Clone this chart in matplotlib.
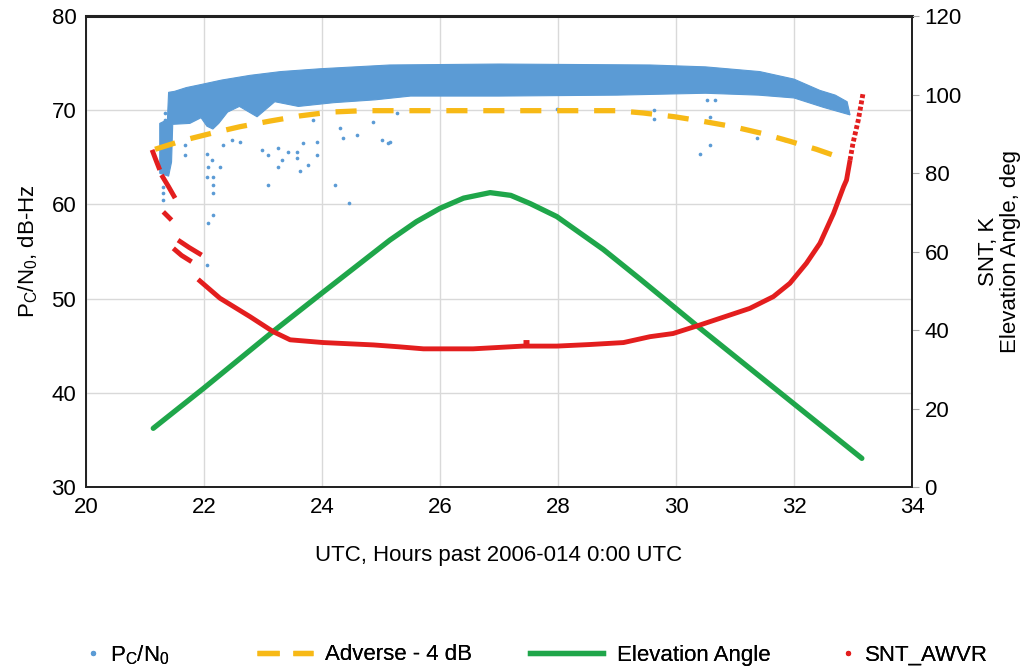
import numpy as np
import matplotlib
matplotlib.use("Agg")
import matplotlib.pyplot as plt
from matplotlib.lines import Line2D

plt.rcParams['font.family'] = ['Liberation Sans', 'DejaVu Sans']

# ---------------- data ----------------
# P_C/N_0 dense band: upper and lower envelope, dB-Hz
band_top_h = [21.25, 21.38, 21.40, 21.50, 21.70, 21.93, 22.30, 22.78, 23.30, 23.97,
              25.15, 27.00, 29.56, 30.50, 31.42, 32.00, 32.44, 32.70, 32.90, 32.95]
band_top_db = [68.6, 69.0, 71.9, 72.0, 72.4, 72.7, 73.2, 73.7, 74.1, 74.4,
               74.8, 74.9, 74.8, 74.6, 74.1, 73.3, 72.1, 71.6, 70.9, 69.5]
band_bot_h = [21.25, 21.40, 21.45, 21.47, 21.76, 21.95, 22.05, 22.15, 22.25, 22.40, 22.60,
              22.90, 23.20, 23.60, 24.20, 24.90, 25.50, 27.00, 29.00, 30.50, 31.40,
              32.00, 32.50, 32.95]
band_bot_db = [63.3, 63.0, 64.5, 68.5, 68.6, 69.2, 68.3, 68.0, 68.6, 69.8, 70.4,
               69.3, 70.9, 70.4, 70.8, 71.1, 71.5, 71.5, 71.6, 71.8, 71.6,
               71.3, 70.3, 69.5]
# scattered P_C/N_0 samples outside the band
out_h = [21.34, 21.34, 21.68, 21.68, 22.05, 22.07, 22.13, 22.05, 22.15, 22.15, 22.15,
         22.27, 22.33, 22.47, 22.61, 22.98, 23.09, 23.09, 23.26, 23.32, 23.26, 23.43,
         23.57, 23.57, 23.63, 23.77, 23.68, 23.91, 23.91, 24.22, 24.36, 24.59, 24.87,
         25.01, 25.12, 23.85, 24.31, 21.31, 21.31, 22.07, 22.16, 22.05, 24.45, 21.31,
         29.62, 29.62, 30.58, 30.58, 31.37, 30.58, 30.41, 31.85, 30.52, 30.66, 27.98,
         25.27, 25.15]
out_db = [69.7, 69.0, 66.3, 65.2, 65.4, 64.0, 64.7, 62.9, 62.9, 62.1, 61.2,
          64.0, 66.3, 66.8, 66.6, 65.8, 65.2, 62.1, 66.0, 64.7, 64.0, 65.6,
          65.6, 64.9, 63.5, 64.2, 66.5, 65.2, 66.6, 62.1, 67.0, 67.4, 68.8,
          66.8, 66.5, 69.0, 68.1, 61.2, 60.5, 58.0, 58.9, 53.6, 60.1, 61.9,
          70.0, 69.1, 69.3, 68.8, 67.0, 66.3, 65.4, 66.8, 71.1, 71.1, 70.1,
          69.7, 66.6]

# Adverse - 4 dB
adv_h = [21.17, 21.65, 22.16, 22.61, 23.12, 23.63, 24.14, 24.70, 25.24, 27.00,
         29.00, 29.45, 29.98, 30.43, 30.97, 31.45, 31.93, 32.38, 32.84]
adv_db = [65.85, 66.8, 67.6, 68.25, 68.85, 69.4, 69.8, 69.95, 69.95, 69.95,
          69.95, 69.7, 69.3, 68.85, 68.25, 67.55, 66.7, 65.85, 64.85]

# Elevation angle, deg
elev_h = [21.14, 21.99, 23.17, 23.99, 25.15, 25.60, 26.00, 26.40, 26.85, 27.20, 27.53,
          27.98, 28.77, 29.39, 30.41, 31.99, 33.15]
elev_deg = [14.95, 25.1, 39.6, 49.3, 62.9, 67.6, 71.0, 73.6, 75.0, 74.3, 72.2,
            68.9, 60.5, 53.0, 40.4, 21.3, 7.3]

# SNT_AWVR, K (pieces)
snt_pieces_h = [
    [21.12, 21.18, 21.25],
    [21.28, 21.40, 21.51],
    [21.31, 21.45],
    [21.48, 21.62, 21.79],
    [21.56, 21.75, 21.96],
    [21.90, 22.27, 22.78, 23.17, 23.46, 24.02, 24.87, 25.32, 25.72, 26.56, 27.41,
     27.98, 28.54, 29.11, 29.56, 29.95, 30.41, 31.25, 31.65, 31.93, 32.21, 32.44,
     32.67, 32.84, 32.89, 32.95],
    [32.95, 33.00, 33.09, 33.17],
    [27.40, 27.50],
]
snt_pieces_k = [
    [85.9, 83.5, 80.8],
    [79.5, 76.5, 73.6],
    [70.1, 68.0],
    [60.8, 59.0, 57.4],
    [62.9, 61.0, 59.1],
    [52.9, 48.1, 43.4, 39.6, 37.5, 36.8, 36.2, 35.7, 35.2, 35.2, 35.9,
     35.9, 36.3, 36.8, 38.3, 39.1, 41.3, 45.5, 48.5, 51.9, 57.0, 62.1,
     69.7, 76.5, 78.2, 83.3],
    [83.3, 87.6, 93.5, 100.3],
    [36.9, 36.9],
]

x_ticks = [20, 22, 24, 26, 28, 30, 32, 34]
left_ticks = [30, 40, 50, 60, 70, 80]
right_ticks = [0, 20, 40, 60, 80, 100, 120]

# ---------------- style ----------------
BLUE = '#5b9bd5'
YELLOW = '#f7b916'
GREEN = '#1fa64a'
RED = '#e31e1e'
GRID = '#d9d9d9'
FS = 16
W, H = 1025, 671

fig = plt.figure(figsize=(W / 100, H / 100), dpi=100)
ax = fig.add_axes([86 / W, 1 - 487 / H, (912 - 86) / W, (487 - 16) / H])
ax2 = ax.twinx()

ax.set_xlim(20, 34)
ax.set_ylim(30, 80)
ax2.set_ylim(0, 120)
ax.set_xticks(x_ticks)
ax.set_yticks(left_ticks)
ax2.set_yticks(right_ticks)
ax.grid(True, color=GRID, lw=1.0)
ax.set_axisbelow(True)

# blue band
poly_x = np.concatenate([band_top_h, band_bot_h[::-1]])
poly_y = np.concatenate([band_top_db, band_bot_db[::-1]])
ax.fill(poly_x, poly_y, color=BLUE, lw=0.8, ec=BLUE, zorder=2)
ax.scatter(out_h, out_db, s=7, color=BLUE, zorder=2, lw=0)

# yellow adverse
ax.plot(adv_h, adv_db, color=YELLOW, lw=3.8, dashes=(4, 3), zorder=3)

# right axis series
ax2.plot(elev_h, elev_deg, color=GREEN, lw=3.8, solid_capstyle='round', zorder=3)
for i, (hh, kk) in enumerate(zip(snt_pieces_h, snt_pieces_k)):
    if i == 6:
        ax2.plot(hh, kk, color=RED, lw=3.5, dashes=(0.8, 0.5), zorder=4)
    else:
        ax2.plot(hh, kk, color=RED, lw=3.5, zorder=4, solid_capstyle='butt')

# spines and ticks
for a in (ax, ax2):
    for s in a.spines.values():
        s.set_color('#222222')
        s.set_linewidth(1.3)
ax.spines['top'].set_linewidth(2.2)
ax.tick_params(axis='both', length=0, labelsize=FS, pad=7)
ax2.tick_params(axis='y', length=5, color='#aaaaaa', labelsize=FS, pad=4)

ax.set_xlabel('UTC, Hours past 2006-014 0:00 UTC', fontsize=FS, labelpad=20)
ax.set_ylabel(r'P$_\mathregular{C}$/N$_\mathregular{0}$, dB-Hz', fontsize=FS, labelpad=8)
ax2.set_ylabel('SNT, K\nElevation Angle, deg', fontsize=FS, labelpad=12, linespacing=1.05)

# legend: one entry per box placed along the bottom
ly = 1 - 655 / H
entries = [
    (Line2D([], [], ls='none', marker='o', ms=2.8, color=BLUE, mec=BLUE),
     r'P$_\mathregular{C}$/N$_\mathregular{0}$', 84, 0.8, 0.36),
    (Line2D([], [], color=YELLOW, lw=3.8, dashes=(4.2, 2.6)),
     'Adverse - 4 dB', 257, 2.52, 0.54),
    (Line2D([], [], color=GREEN, lw=3.8),
     'Elevation Angle', 530, 3.29, 0.63),
    (Line2D([], [], ls='none', marker='o', ms=2.8, color=RED, mec=RED),
     'SNT_AWVR', 839, 0.8, 0.36),
]
for h, lab, x0, hl, tp in entries:
    leg = fig.legend([h], [lab], loc='center left', bbox_to_anchor=(x0 / W, ly),
                     frameon=False, fontsize=FS, handlelength=hl, handletextpad=tp,
                     borderpad=0, borderaxespad=0)
    fig.add_artist(leg)

fig.savefig('out.png', dpi=100)
